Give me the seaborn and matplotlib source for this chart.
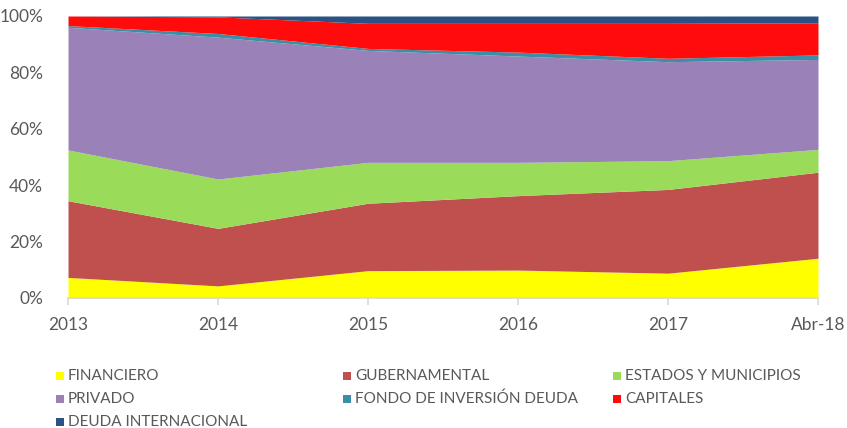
import matplotlib
matplotlib.use("Agg")
import matplotlib.pyplot as plt
import seaborn as sns
import numpy as np
from matplotlib.patches import Rectangle

categories = ["2013", "2014", "2015", "2016", "2017", "Abr-18"]
financiero = [7.3, 4.3, 9.7, 9.9, 8.8, 14.1]
gubernamental = [27.2, 20.4, 23.9, 26.4, 29.7, 30.5]
estados = [18.0, 17.5, 14.5, 11.8, 10.2, 8.1]
privado = [43.5, 50.3, 39.7, 37.7, 35.1, 31.9]
fondo = [0.6, 1.3, 0.7, 1.4, 1.2, 1.6]
capitales = [3.4, 5.9, 8.9, 10.2, 12.4, 11.4]
deuda_int = [0.0, 0.3, 2.6, 2.6, 2.6, 2.4]

series_names = ["FINANCIERO", "GUBERNAMENTAL", "ESTADOS Y MUNICIPIOS", "PRIVADO",
                "FONDO DE INVERSIÓN DEUDA", "CAPITALES", "DEUDA INTERNACIONAL"]
series_vals = [financiero, gubernamental, estados, privado, fondo, capitales, deuda_int]
colors = ["#FFFF00", "#C0504D", "#9BDB5A", "#9A82B8", "#3B8EA5", "#FF0B0B", "#2C5284"]

sns.set_theme(style="white")
plt.rcParams["font.family"] = ["Lato", "DejaVu Sans"]

fig = plt.figure(figsize=(8.47, 4.28), dpi=100)
ax = fig.add_axes([68/847, 1-298/428, 750/847, 282/428])

x = np.arange(len(categories))
data = np.array(series_vals, dtype=float)
data = data / data.sum(axis=0) * 100
ax.stackplot(x, data, colors=colors, linewidth=0)

ax.set_xlim(0, len(categories) - 1)
ax.set_ylim(0, 100)
ax.set_xticks(x)
ax.set_xticklabels(categories)
ax.set_yticks([0, 20, 40, 60, 80, 100])
ax.set_yticklabels([f"{v}%" for v in [0, 20, 40, 60, 80, 100]])
for s in ["top", "right", "left"]:
    ax.spines[s].set_visible(False)
ax.spines["bottom"].set_color("#D9D9D9")
ax.spines["bottom"].set_linewidth(1.2)
ax.tick_params(axis="x", which="both", bottom=True, length=5, width=1.2,
               color="#D9D9D9", labelsize=12.5, labelcolor="#595959", pad=9)
ax.tick_params(axis="y", left=False, labelsize=12.5, labelcolor="#595959", pad=12)
ax.grid(False)

# legend
leg_items = [
    (0, 60, 376), (1, 347, 376), (2, 617, 376),
    (3, 60, 399), (4, 347, 399), (5, 617, 399),
    (6, 60, 422),
]
W, H = 847, 428
for idx, px, py in leg_items:
    sz = 8
    fig.patches.append(Rectangle(((px - sz/2)/W, 1 - (py + sz/2)/H), sz/W, sz/H,
                                 transform=fig.transFigure, facecolor=colors[idx],
                                 edgecolor="none"))
    fig.text((px + 8)/W, 1 - py/H, series_names[idx], ha="left", va="center",
             fontsize=11, color="#595959")

fig.savefig("out.png", dpi=100)
